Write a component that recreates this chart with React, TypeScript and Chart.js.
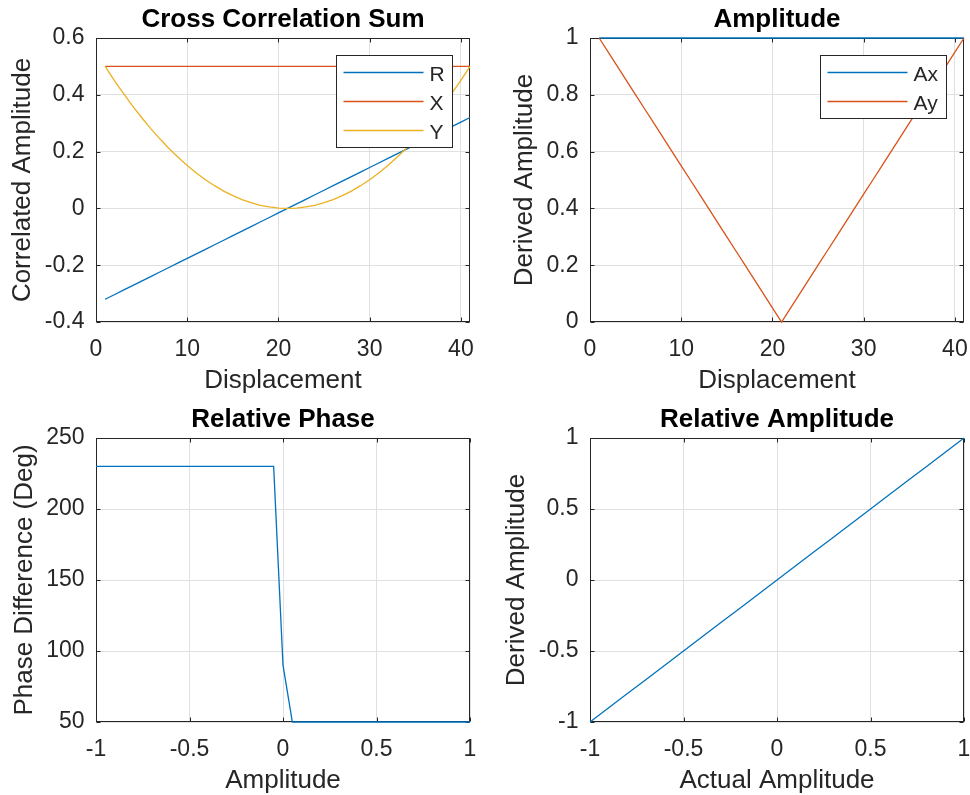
import React, { useEffect, useRef } from "react";
import { Chart, registerables } from "chart.js";

Chart.register(...registerables);

// ---- Cross Correlation Sum ----
const displacement = [
  1, 2, 3, 4, 5, 6, 7, 8, 9, 10, 11, 12, 13, 14, 15, 16, 17, 18, 19, 20, 21,
  22, 23, 24, 25, 26, 27, 28, 29, 30, 31, 32, 33, 34, 35, 36, 37, 38, 39, 40, 41,
];
const corrR = [
  -0.32, -0.304, -0.288, -0.272, -0.256, -0.24, -0.224, -0.208, -0.192, -0.176,
  -0.16, -0.144, -0.128, -0.112, -0.096, -0.08, -0.064, -0.048, -0.032, -0.016,
  0, 0.016, 0.032, 0.048, 0.064, 0.08, 0.096, 0.112, 0.128, 0.144, 0.16, 0.176,
  0.192, 0.208, 0.224, 0.24, 0.256, 0.272, 0.288, 0.304, 0.32,
];
const corrX = [
  0.5, 0.5, 0.5, 0.5, 0.5, 0.5, 0.5, 0.5, 0.5, 0.5, 0.5, 0.5, 0.5, 0.5, 0.5,
  0.5, 0.5, 0.5, 0.5, 0.5, 0.5, 0.5, 0.5, 0.5, 0.5, 0.5, 0.5, 0.5, 0.5, 0.5,
  0.5, 0.5, 0.5, 0.5, 0.5, 0.5, 0.5, 0.5, 0.5, 0.5, 0.5,
];
const corrY = [
  0.5, 0.451, 0.405, 0.361, 0.32, 0.281, 0.245, 0.211, 0.18, 0.151, 0.125,
  0.101, 0.08, 0.061, 0.045, 0.031, 0.02, 0.011, 0.005, 0.001, 0, 0.001, 0.005,
  0.011, 0.02, 0.031, 0.045, 0.061, 0.08, 0.101, 0.125, 0.151, 0.18, 0.211,
  0.245, 0.281, 0.32, 0.361, 0.405, 0.451, 0.5,
];

// ---- Amplitude ----
const ampAx = [
  1, 1, 1, 1, 1, 1, 1, 1, 1, 1, 1, 1, 1, 1, 1, 1, 1, 1, 1, 1, 1,
  1, 1, 1, 1, 1, 1, 1, 1, 1, 1, 1, 1, 1, 1, 1, 1, 1, 1, 1, 1,
];
const ampAy = [
  1, 0.95, 0.9, 0.85, 0.8, 0.75, 0.7, 0.65, 0.6, 0.55, 0.5, 0.45, 0.4, 0.35,
  0.3, 0.25, 0.2, 0.15, 0.1, 0.05, 0, 0.05, 0.1, 0.15, 0.2, 0.25, 0.3, 0.35,
  0.4, 0.45, 0.5, 0.55, 0.6, 0.65, 0.7, 0.75, 0.8, 0.85, 0.9, 0.95, 1,
];

// ---- Relative Phase ----
const phaseAmplitude = [
  -1, -0.95, -0.9, -0.85, -0.8, -0.75, -0.7, -0.65, -0.6, -0.55, -0.5, -0.45,
  -0.4, -0.35, -0.3, -0.25, -0.2, -0.15, -0.1, -0.05, 0, 0.05, 0.1, 0.15, 0.2,
  0.25, 0.3, 0.35, 0.4, 0.45, 0.5, 0.55, 0.6, 0.65, 0.7, 0.75, 0.8, 0.85, 0.9,
  0.95, 1,
];
const phaseDeg = [
  230, 230, 230, 230, 230, 230, 230, 230, 230, 230, 230, 230, 230, 230, 230,
  230, 230, 230, 230, 230, 90, 50, 50, 50, 50, 50, 50, 50, 50, 50, 50, 50, 50,
  50, 50, 50, 50, 50, 50, 50, 50,
];

// ---- Relative Amplitude ----
const actualAmplitude = [
  -1, -0.9, -0.8, -0.7, -0.6, -0.5, -0.4, -0.3, -0.2, -0.1, 0, 0.1, 0.2, 0.3,
  0.4, 0.5, 0.6, 0.7, 0.8, 0.9, 1,
];
const derivedAmplitude = [
  -1, -0.9, -0.8, -0.7, -0.6, -0.5, -0.4, -0.3, -0.2, -0.1, 0, 0.1, 0.2, 0.3,
  0.4, 0.5, 0.6, 0.7, 0.8, 0.9, 1,
];

// ---- Tick values ----
const displacementTicks = [0, 10, 20, 30, 40];
const correlationTicks = [-0.4, -0.2, 0, 0.2, 0.4, 0.6];
const amplitudeTicks = [0, 0.2, 0.4, 0.6, 0.8, 1];
const unitTicks = [-1, -0.5, 0, 0.5, 1];
const phaseTicks = [50, 100, 150, 200, 250];

const BLUE = "#0072BD";
const ORANGE = "#D95319";
const YELLOW = "#EDB120";
const INK = "#262626";
const GRID = "#e0e0e0";
const FONT = '"Liberation Sans", Arial, Helvetica, sans-serif';

Chart.defaults.font.family = FONT;

type Series = {
  label: string;
  xs: number[];
  ys: number[];
  color: string;
  order: number;
};

type Panel = {
  title: string;
  xLabel: string;
  yLabel: string;
  xRange: [number, number];
  yRange: [number, number];
  xTicks: number[];
  yTicks: number[];
  series: Series[];
  legend: boolean;
  left: number;
  top: number;
  axisWidth: number;
  rightPad: number;
  yTitlePad: number;
};

const CANVAS_W = 485;
const CANVAS_H = 400;
const PLOT_BOTTOM = 322;

// Dark box around the axes plus short inward tick marks on all four sides
const axesFrame = {
  id: "axesFrame",
  beforeDatasetsDraw(chart: any) {
    const { ctx, chartArea: a, scales } = chart;
    const L = Math.round(a.left) + 0.5;
    const R = Math.round(a.right) - 0.5;
    const T = Math.round(a.top) + 0.5;
    const B = Math.round(a.bottom) - 0.5;
    ctx.save();
    ctx.strokeStyle = INK;
    ctx.lineWidth = 1;
    ctx.beginPath();
    for (const t of scales.x.ticks) {
      const px = Math.round(scales.x.getPixelForValue(t.value)) + 0.5;
      ctx.moveTo(px, B);
      ctx.lineTo(px, B - 4);
      ctx.moveTo(px, T);
      ctx.lineTo(px, T + 4);
    }
    for (const t of scales.y.ticks) {
      const py = Math.round(scales.y.getPixelForValue(t.value)) + 0.5;
      ctx.moveTo(L, py);
      ctx.lineTo(L + 4, py);
      ctx.moveTo(R, py);
      ctx.lineTo(R - 4, py);
    }
    ctx.stroke();
    ctx.strokeRect(L, T, R - L, B - T);
    ctx.restore();
  },
};

// Boxed legend in the upper-right corner of the axes
const makeBoxLegend = (show: boolean) => ({
  id: "boxLegend",
  afterDatasetsDraw(chart: any) {
    if (!show) return;
    const { ctx, chartArea: a } = chart;
    const items = chart.data.datasets;
    ctx.save();
    ctx.font = `21px ${FONT}`;
    const textW = Math.max(
      ...items.map((d: any) => ctx.measureText(d.label).width)
    );
    const w = Math.round(93 + textW + 8);
    const h = 34 + 29 * (items.length - 1);
    const left = Math.round(a.right - 18 - w) + 0.5;
    const top = Math.round(a.top + 16.5) + 0.5;
    ctx.fillStyle = "#ffffff";
    ctx.fillRect(left, top, w, h);
    ctx.strokeStyle = INK;
    ctx.lineWidth = 1;
    ctx.strokeRect(left, top, w, h);
    items.forEach((d: any, i: number) => {
      const y = top + 17 + 29 * i;
      ctx.strokeStyle = d.borderColor;
      ctx.lineWidth = 1.3;
      ctx.beginPath();
      ctx.moveTo(left + 7, y);
      ctx.lineTo(left + 87, y);
      ctx.stroke();
      ctx.fillStyle = INK;
      ctx.textAlign = "left";
      ctx.textBaseline = "middle";
      ctx.fillText(d.label, left + 93, y + 3);
    });
    ctx.restore();
  },
});

function PlotPanel({ panel }: { panel: Panel }) {
  const ref = useRef<HTMLCanvasElement | null>(null);

  useEffect(() => {
    if (!ref.current) return;
    const p = panel;
    const chart = new Chart(ref.current, {
      type: "line",
      data: {
        datasets: p.series.map((s) => ({
          label: s.label,
          data: s.xs.map((x, i) => ({ x, y: s.ys[i] })),
          borderColor: s.color,
          backgroundColor: s.color,
          borderWidth: 1.3,
          pointRadius: 0,
          tension: 0,
          fill: false,
          clip: false,
          order: s.order,
        })),
      },
      options: {
        animation: false,
        responsive: false,
        maintainAspectRatio: false,
        events: [],
        layout: { padding: { left: 0, right: p.rightPad, top: 0, bottom: 0 } },
        plugins: {
          legend: { display: false },
          tooltip: { enabled: false },
          title: {
            display: true,
            text: p.title,
            fullSize: false,
            color: "#000000",
            font: { family: FONT, size: 26, weight: "bold", lineHeight: 1.2 },
            padding: { top: 4.6, bottom: 2.2 },
          },
        },
        scales: {
          x: {
            type: "linear",
            min: p.xRange[0],
            max: p.xRange[1],
            afterBuildTicks: (scale: any) => {
              scale.ticks = p.xTicks.map((v) => ({ value: v }));
            },
            afterFit: (scale: any) => {
              scale.height = CANVAS_H - PLOT_BOTTOM;
              scale.paddingLeft = 0;
              scale.paddingRight = 0;
            },
            grid: { color: GRID, lineWidth: 1, drawTicks: false },
            border: { display: false },
            ticks: {
              color: INK,
              font: { family: FONT, size: 23, lineHeight: 1.2 },
              padding: 13.5,
              maxRotation: 0,
              autoSkip: false,
              callback: (v: any) => String(v),
            },
            title: {
              display: true,
              text: p.xLabel,
              color: INK,
              font: { family: FONT, size: 26, lineHeight: 1.2 },
              padding: { top: 0, bottom: 4 },
            },
          },
          y: {
            type: "linear",
            min: p.yRange[0],
            max: p.yRange[1],
            afterBuildTicks: (scale: any) => {
              scale.ticks = p.yTicks.map((v) => ({ value: v }));
            },
            afterFit: (scale: any) => {
              scale.width = p.axisWidth;
              scale.paddingTop = 0;
              scale.paddingBottom = 0;
            },
            grid: { color: GRID, lineWidth: 1, drawTicks: false },
            border: { display: false },
            ticks: {
              color: INK,
              font: { family: FONT, size: 23, lineHeight: 1.2 },
              padding: 11.5,
              autoSkip: false,
              callback: (v: any) => String(v),
            },
            title: {
              display: true,
              text: p.yLabel,
              color: INK,
              font: { family: FONT, size: 26, lineHeight: 1.2 },
              padding: { top: p.yTitlePad, bottom: 0 },
            },
          },
        },
      } as any,
      plugins: [axesFrame, makeBoxLegend(p.legend)],
    });
    return () => chart.destroy();
  }, [panel]);

  return (
    <div
      style={{
        position: "absolute",
        left: panel.left,
        top: panel.top,
        width: CANVAS_W,
        height: CANVAS_H,
      }}
    >
      <canvas
        ref={ref}
        width={CANVAS_W}
        height={CANVAS_H}
        style={{ display: "block", width: CANVAS_W, height: CANVAS_H }}
      />
    </div>
  );
}

const panels: Panel[] = [
  {
    title: "Cross Correlation Sum",
    xLabel: "Displacement",
    yLabel: "Correlated Amplitude",
    xRange: [0, 41],
    yRange: [-0.4, 0.6],
    xTicks: displacementTicks,
    yTicks: correlationTicks,
    series: [
      { label: "R", xs: displacement, ys: corrR, color: BLUE, order: 3 },
      { label: "X", xs: displacement, ys: corrX, color: ORANGE, order: 2 },
      { label: "Y", xs: displacement, ys: corrY, color: YELLOW, order: 1 },
    ],
    legend: true,
    left: 0,
    top: 0,
    axisWidth: 96,
    rightPad: 15,
    yTitlePad: 7.4,
  },
  {
    title: "Amplitude",
    xLabel: "Displacement",
    yLabel: "Derived Amplitude",
    xRange: [0, 41],
    yRange: [0, 1],
    xTicks: displacementTicks,
    yTicks: amplitudeTicks,
    series: [
      { label: "Ax", xs: displacement, ys: ampAx, color: BLUE, order: 2 },
      { label: "Ay", xs: displacement, ys: ampAy, color: ORANGE, order: 1 },
    ],
    legend: true,
    left: 485,
    top: 0,
    axisWidth: 105,
    rightPad: 6,
    yTitlePad: 24,
  },
  {
    title: "Relative Phase",
    xLabel: "Amplitude",
    yLabel: "Phase Difference (Deg)",
    xRange: [-1, 1],
    yRange: [50, 250],
    xTicks: unitTicks,
    yTicks: phaseTicks,
    series: [
      { label: "Phase", xs: phaseAmplitude, ys: phaseDeg, color: BLUE, order: 1 },
    ],
    legend: false,
    left: 0,
    top: 400,
    axisWidth: 96,
    rightPad: 15,
    yTitlePad: 9.5,
  },
  {
    title: "Relative Amplitude",
    xLabel: "Actual Amplitude",
    yLabel: "Derived Amplitude",
    xRange: [-1, 1],
    yRange: [-1, 1],
    xTicks: unitTicks,
    yTicks: unitTicks,
    series: [
      {
        label: "Derived",
        xs: actualAmplitude,
        ys: derivedAmplitude,
        color: BLUE,
        order: 1,
      },
    ],
    legend: false,
    left: 485,
    top: 400,
    axisWidth: 105,
    rightPad: 6,
    yTitlePad: 16,
  },
];

export default function App() {
  return (
    <div
      style={{
        position: "absolute",
        left: 0,
        top: 0,
        width: 970,
        height: 795,
        overflow: "hidden",
        background: "#ffffff",
      }}
    >
      {panels.map((p) => (
        <PlotPanel key={p.title} panel={p} />
      ))}
    </div>
  );
}
